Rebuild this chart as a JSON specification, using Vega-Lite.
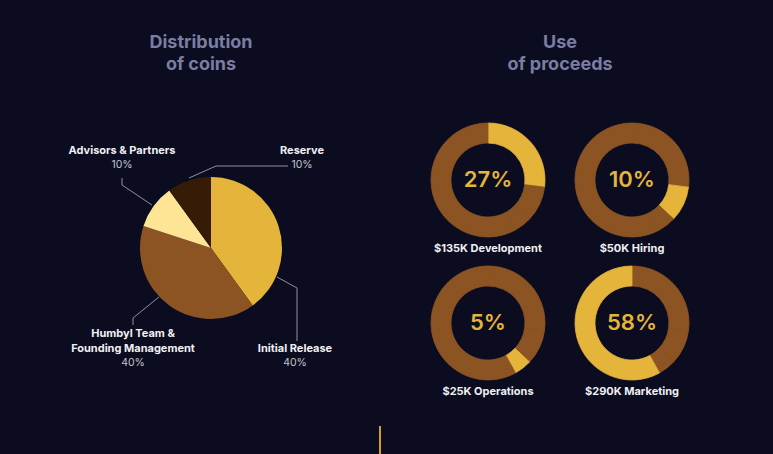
{
  "$schema": "https://vega.github.io/schema/vega-lite/v6.json",
  "background": "#0b0c20",
  "padding": {"left": 62, "top": 34, "right": 81, "bottom": 0},
  "config": {
    "view": {"stroke": null},
    "font": "Inter",
    "title": {"color": "#7b7ea2", "font": "Inter", "fontSize": 18, "fontWeight": "bold", "lineHeight": 22, "offset": 46, "anchor": "middle"}
  },
  "datasets": {
    "coins": [
      {"allocation": "Initial Release", "share": 0.4, "rank": 1},
      {"allocation": "Humbyl Team & Founding Management", "share": 0.4, "rank": 2},
      {"allocation": "Advisors & Partners", "share": 0.1, "rank": 3},
      {"allocation": "Reserve", "share": 0.1, "rank": 4}
    ],
    "coinNames": [
      {"text": "Advisors & Partners", "x": -89, "y": 97},
      {"text": "Reserve", "x": 91, "y": 97},
      {"text": "Humbyl Team &", "x": -78, "y": -86},
      {"text": "Founding Management", "x": -78, "y": -101},
      {"text": "Initial Release", "x": 84, "y": -101}
    ],
    "coinShares": [
      {"text": "10%", "x": -89, "y": 83},
      {"text": "10%", "x": 91, "y": 83},
      {"text": "40%", "x": -78, "y": -115},
      {"text": "40%", "x": 84, "y": -115}
    ],
    "leaders": [
      {"leader": "advisors", "step": 1, "x": -89, "y": 70},
      {"leader": "advisors", "step": 2, "x": -89, "y": 63},
      {"leader": "advisors", "step": 3, "x": -59, "y": 43},
      {"leader": "reserve", "step": 1, "x": -22, "y": 70},
      {"leader": "reserve", "step": 2, "x": 5, "y": 82},
      {"leader": "reserve", "step": 3, "x": 77, "y": 82},
      {"leader": "initial", "step": 1, "x": 66, "y": -29},
      {"leader": "initial", "step": 2, "x": 86, "y": -40},
      {"leader": "initial", "step": 3, "x": 86, "y": -93},
      {"leader": "team", "step": 1, "x": -52, "y": -49},
      {"leader": "team", "step": 2, "x": -78, "y": -70},
      {"leader": "team", "step": 3, "x": -78, "y": -77}
    ],
    "marker": [{"x": 169, "y": -178, "y2": -206}],
    "proceeds": [
      {"panel": "$135K Development", "use": "$135K Development", "share": 0.27, "rank": 1},
      {"panel": "$135K Development", "use": "$50K Hiring", "share": 0.10, "rank": 2},
      {"panel": "$135K Development", "use": "$25K Operations", "share": 0.05, "rank": 3},
      {"panel": "$135K Development", "use": "$290K Marketing", "share": 0.58, "rank": 4},
      {"panel": "$50K Hiring", "use": "$135K Development", "share": 0.27, "rank": 1},
      {"panel": "$50K Hiring", "use": "$50K Hiring", "share": 0.10, "rank": 2},
      {"panel": "$50K Hiring", "use": "$25K Operations", "share": 0.05, "rank": 3},
      {"panel": "$50K Hiring", "use": "$290K Marketing", "share": 0.58, "rank": 4},
      {"panel": "$25K Operations", "use": "$135K Development", "share": 0.27, "rank": 1},
      {"panel": "$25K Operations", "use": "$50K Hiring", "share": 0.10, "rank": 2},
      {"panel": "$25K Operations", "use": "$25K Operations", "share": 0.05, "rank": 3},
      {"panel": "$25K Operations", "use": "$290K Marketing", "share": 0.58, "rank": 4},
      {"panel": "$290K Marketing", "use": "$135K Development", "share": 0.27, "rank": 1},
      {"panel": "$290K Marketing", "use": "$50K Hiring", "share": 0.10, "rank": 2},
      {"panel": "$290K Marketing", "use": "$25K Operations", "share": 0.05, "rank": 3},
      {"panel": "$290K Marketing", "use": "$290K Marketing", "share": 0.58, "rank": 4}
    ]
  },
  "spacing": 46,
  "hconcat": [
    {
      "title": {"text": ["Distribution", "of coins"], "dx": -21},
      "width": 320,
      "height": 334,
      "layer": [
        {
          "data": {"name": "coins"},
          "mark": {"type": "arc", "outerRadius": 71},
          "encoding": {
            "theta": {"field": "share", "type": "quantitative", "stack": true},
            "order": {"field": "rank", "type": "quantitative"},
            "color": {
              "field": "allocation", "type": "nominal", "legend": null,
              "scale": {
                "domain": ["Initial Release", "Humbyl Team & Founding Management", "Advisors & Partners", "Reserve"],
                "range": ["#e5b43b", "#8d5423", "#fee595", "#361c06"]
              }
            },
            "x": {"datum": 0, "type": "quantitative", "scale": {"domain": [-149, 171], "nice": false, "zero": false}, "axis": null},
            "y": {"datum": 0, "type": "quantitative", "scale": {"domain": [-206, 128], "nice": false, "zero": false}, "axis": null}
          }
        },
        {
          "data": {"name": "leaders"},
          "mark": {"type": "line", "color": "#8f8f9e", "strokeWidth": 1},
          "encoding": {
            "x": {"field": "x", "type": "quantitative"},
            "y": {"field": "y", "type": "quantitative"},
            "detail": {"field": "leader"},
            "order": {"field": "step", "type": "quantitative"}
          }
        },
        {
          "data": {"name": "coinNames"},
          "mark": {"type": "text", "font": "Inter", "fontSize": 11, "fontWeight": "bold", "color": "#f0f0f2", "align": "center", "baseline": "middle"},
          "encoding": {
            "x": {"field": "x", "type": "quantitative"},
            "y": {"field": "y", "type": "quantitative"},
            "text": {"field": "text"}
          }
        },
        {
          "data": {"name": "coinShares"},
          "mark": {"type": "text", "font": "Inter", "fontSize": 10.5, "color": "#c4c4cc", "align": "center", "baseline": "middle"},
          "encoding": {
            "x": {"field": "x", "type": "quantitative"},
            "y": {"field": "y", "type": "quantitative"},
            "text": {"field": "text"}
          }
        },
        {
          "data": {"name": "marker"},
          "mark": {"type": "rule", "color": "#d19c2b", "strokeWidth": 2},
          "encoding": {
            "x": {"field": "x", "type": "quantitative"},
            "y": {"field": "y", "type": "quantitative"},
            "y2": {"field": "y2"}
          }
        }
      ]
    },
    {
      "title": {"text": ["Use", "of proceeds"]},
      "data": {"name": "proceeds"},
      "facet": {
        "field": "panel", "type": "nominal",
        "sort": ["$135K Development", "$50K Hiring", "$25K Operations", "$290K Marketing"],
        "header": {"title": null, "labelOrient": "bottom", "labelColor": "#f0f0f2", "labelFont": "Inter", "labelFontSize": 11, "labelFontWeight": "bold", "labelPadding": 3}
      },
      "columns": 2,
      "spacing": {"column": 24, "row": 9},
      "spec": {
        "width": 120,
        "height": 120,
        "layer": [
          {
            "mark": {"type": "arc", "outerRadius": 57, "innerRadius": 37, "strokeWidth": 0.8},
            "encoding": {
              "theta": {"field": "share", "type": "quantitative", "stack": true},
              "order": {"field": "rank", "type": "quantitative"},
              "color": {"condition": {"test": "datum.use === datum.panel", "value": "#e5b43b"}, "value": "#8d5423"},
              "stroke": {"condition": {"test": "datum.use === datum.panel", "value": "#e5b43b"}, "value": "#8d5423"}
            }
          },
          {
            "transform": [{"filter": "datum.use === datum.panel"}],
            "mark": {"type": "text", "font": "Inter", "fontSize": 22, "fontWeight": 600, "color": "#e5b43b", "align": "center", "baseline": "middle"},
            "encoding": {
              "text": {"field": "share", "type": "quantitative", "format": ".0%"}
            }
          }
        ]
      }
    }
  ]
}
